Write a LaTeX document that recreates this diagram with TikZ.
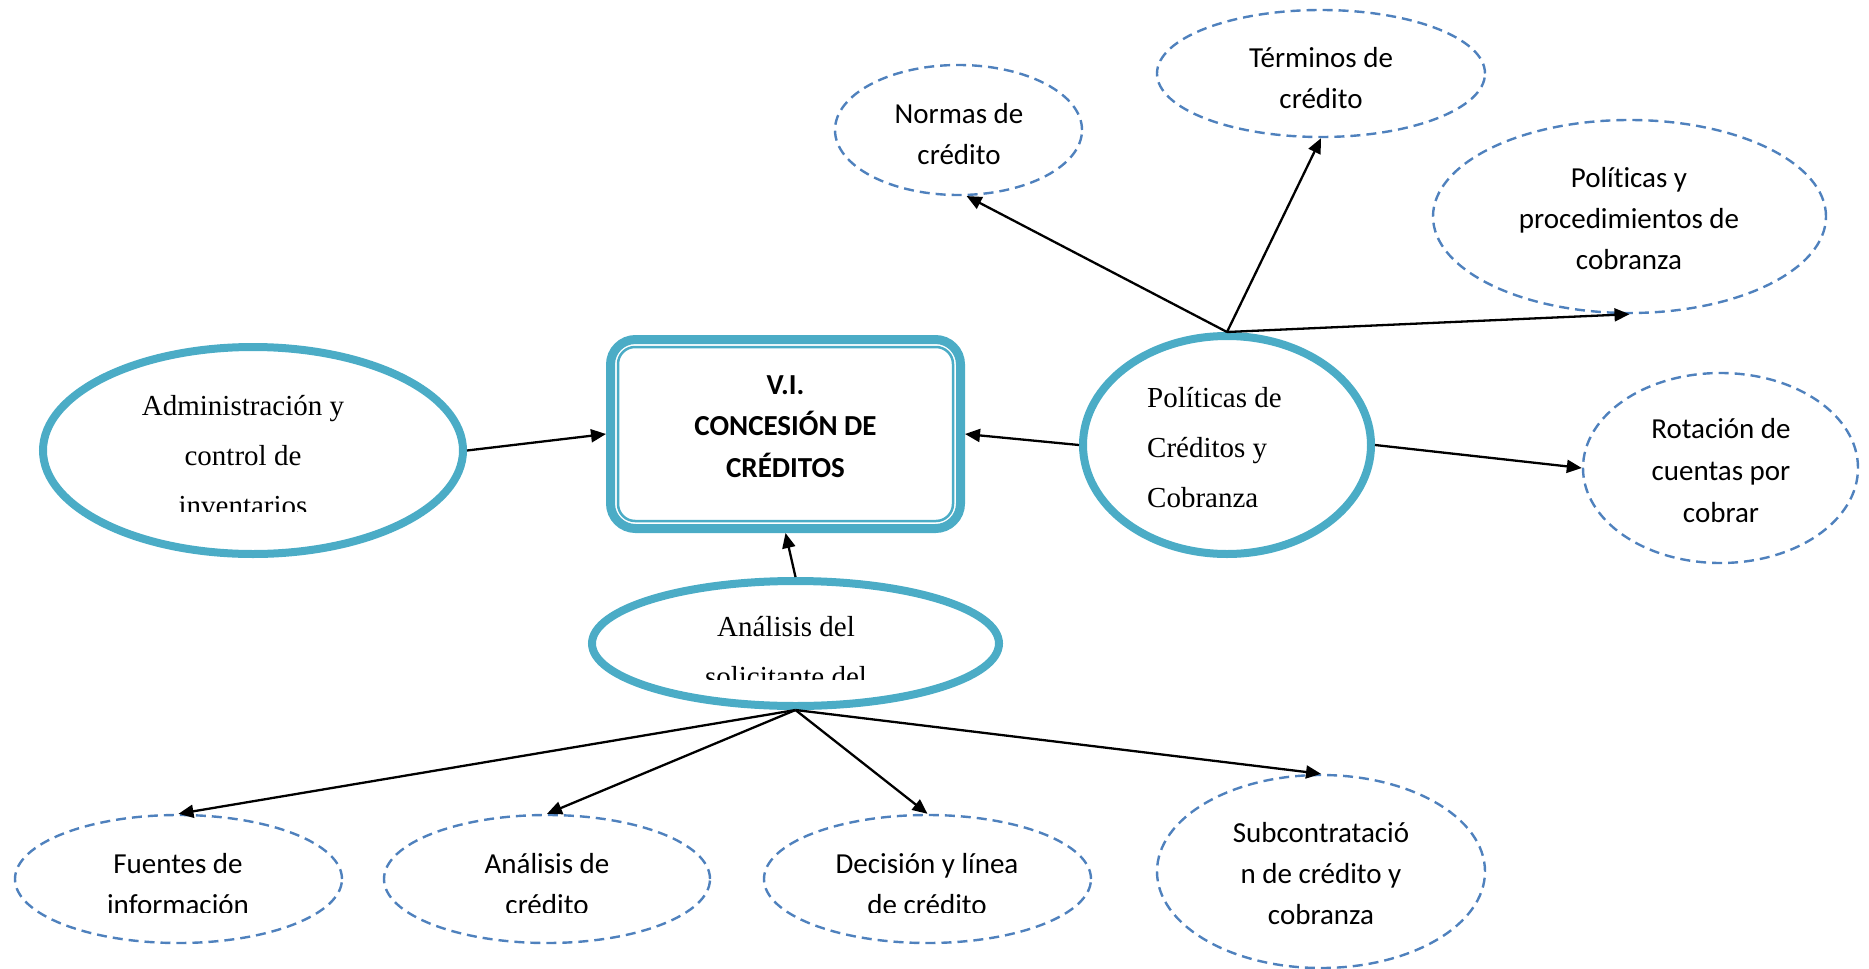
\documentclass[tikz,border=0pt]{standalone}
\usepackage{fontspec}
\setmainfont{Liberation Serif}
\newfontfamily\calfont[Ligatures={NoCommon,NoContextual},Contextuals=NoAlternate]{Carlito}
\usetikzlibrary{shapes.geometric,arrows.meta,calc}
\definecolor{tealline}{HTML}{4BACC6}
\definecolor{dashblue}{HTML}{4F81BD}
% stacked lines: centred, and flush left; the box baseline is the first line
\newcommand{\clines}[1]{\vtop{\halign{\hfil##\hfil\cr#1\crcr}}}
\newcommand{\llines}[1]{\vtop{\halign{##\hfil\cr#1\crcr}}}

\begin{document}
\begin{tikzpicture}[x=1pt,y=-1pt,
  mainell/.style={ellipse, draw=tealline, line width=8pt, inner sep=0pt},
  subell/.style={ellipse, draw=dashblue, line width=2.4pt, dash pattern=on 10pt off 6pt, inner sep=0pt},
  caltext/.style={font=\calfont\fontsize{29}{41}\selectfont, inner sep=0pt, anchor=base},
  boxtext/.style={font=\calfont\bfseries\fontsize{29}{41.5}\selectfont, inner sep=0pt, anchor=base},
  romtext/.style={font=\fontsize{29}{50}\selectfont, inner sep=0pt, anchor=base},
  link/.style={line width=2.3pt, -{Triangle[length=15pt,width=13pt]}}
]
\useasboundingbox (0,0) rectangle (1869,969);

% central box
\node[draw=tealline, line width=9pt, rounded corners=25pt, minimum width=350pt,
      minimum height=189pt, inner sep=0pt] (box) at (785.5,434) {};
\draw[tealline, line width=2.5pt, rounded corners=17pt]
  ($(box.south west)+(12,-12)$) rectangle ($(box.north east)+(-12,12)$);
\node[boxtext] (boxtxt) at (785.5,394) {\clines{V.I.\cr CONCESIÓN DE\cr CRÉDITOS}};

% main ellipses
\node[mainell, minimum width=420pt, minimum height=207pt] (admin) at (253,450.5) {};
\node[mainell, minimum width=288pt, minimum height=218pt] (pol) at (1227,445) {};
\node[mainell, minimum width=407pt, minimum height=125pt] (sol) at (795.5,643.5) {};

\begin{scope}
  \clip (0,300) rectangle (500,511);
  \node[romtext] (admintxt) at (243,415) {\clines{Administración y\cr control de\cr inventarios}};
\end{scope}
\node[romtext, anchor=base west] (poltxt) at (1147,407) {\llines{Políticas de\cr Créditos y\cr Cobranza}};
\begin{scope}
  \clip (500,600) rectangle (1100,679);
  \node[romtext] (soltxt) at (786,636) {\clines{Análisis del\cr solicitante del}};
\end{scope}

% dashed ellipses
\node[subell, minimum width=247pt, minimum height=130pt] (normas) at (958.5,130) {};
\node[subell, minimum width=328pt, minimum height=127pt] (term) at (1321,73.5) {};
\node[subell, minimum width=393pt, minimum height=193pt] (polp) at (1629.5,216.5) {};
\node[subell, minimum width=275pt, minimum height=190pt] (rot) at (1720.5,468) {};
\node[subell, minimum width=327pt, minimum height=128pt] (fuen) at (178.5,879) {};
\node[subell, minimum width=326pt, minimum height=128pt] (anal) at (547,879) {};
\node[subell, minimum width=327pt, minimum height=128pt] (deci) at (927.5,879) {};
\node[subell, minimum width=328pt, minimum height=193pt] (subc) at (1321,871.5) {};

\node[caltext] (normastxt) at (959,123) {\clines{Normas de\cr crédito}};
\node[caltext] (termtxt) at (1321,67) {\clines{Términos de\cr crédito}};
\node[caltext] (polptxt) at (1629,187) {\clines{Políticas y\cr procedimientos de\cr cobranza}};
\node[caltext, font=\calfont\fontsize{29}{42}\selectfont] (rottxt) at (1721,438) {\clines{Rotación de\cr cuentas por\cr cobrar}};
\begin{scope}
  \clip (0,820) rectangle (1150,912);
  \node[caltext] (fuentxt) at (178,873) {\clines{Fuentes de\cr información}};
  \node[caltext] (analtxt) at (547,873) {\clines{Análisis de\cr crédito}};
  \node[caltext] (decitxt) at (927,873) {\clines{Decisión y línea\cr de crédito}};
\end{scope}
\node[caltext] (subctxt) at (1321,842) {\clines{Subcontratació\cr n de crédito y\cr cobranza}};

% connectors
\draw[link] (admin.east) -- (box.west);
\draw[link] (pol.west) -- (box.east);
\draw[link] (sol.north) -- (box.south);
\draw[link] (pol.north) -- (normas.277);
\draw[link] (pol.north) -- (term.south);
\draw[link] (pol.north) -- (polp.south);
\draw[link] (pol.east) -- (rot.west);
\draw[link] (sol.south) -- (fuen.north);
\draw[link] (sol.south) -- (anal.north);
\draw[link] (sol.south) -- (deci.north);
\draw[link] (sol.south) -- (subc.north);
\end{tikzpicture}
\end{document}
